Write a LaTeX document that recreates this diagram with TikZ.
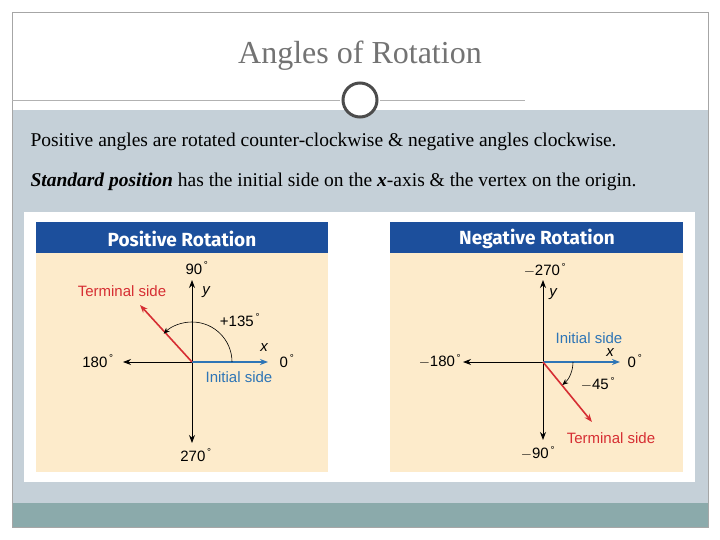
\documentclass[tikz,border=0pt]{standalone}
\usepackage{fontspec}
\setmainfont{Liberation Serif}
\newfontfamily\lab{Liberation Sans}
\newfontfamily\hdr{Fira Sans}
\usetikzlibrary{arrows.meta}
\definecolor{bg}{HTML}{C5D0D8}
\definecolor{bar}{HTML}{8BAAAB}
\definecolor{hblue}{HTML}{1C4F9C}
\definecolor{cream}{HTML}{FDEBCB}
\definecolor{ared}{HTML}{D62E33}
\definecolor{ablue}{HTML}{2E75B6}
\newcommand{\dg}{\textsuperscript{\,\lab\fontsize{10}{10}\selectfont\textdegree}}
\begin{document}
\begin{tikzpicture}[x=1pt,y=-1pt,
  ax/.style={-{Stealth[length=8pt,width=6pt]},line width=0.9pt},
  lb/.style={font=\lab\fontsize{15}{15}\selectfont},
  li/.style={font=\lab\itshape\fontsize{15}{15}\selectfont},
  arcs/.style={-{Stealth[length=6pt,width=5pt]},line width=0.6pt}]
\useasboundingbox (0,0) rectangle (720,540);
\fill[white] (0,0) rectangle (720,540);
\fill[bg] (12,110) rectangle (708,503);
\fill[bar] (12,503) rectangle (708,527);
\draw[gray!70] (12,12) rectangle (708,527);
\draw[gray!60] (12,100) -- (340,100) (380,100) -- (525,100);
\draw[gray!60!black,line width=3pt,fill=white] (360,100) circle (17);
\node[font=\fontsize{32}{32}\selectfont,text=gray!90!black] (title) at (360,56) {Angles of Rotation};
\node[anchor=west,font=\fontsize{19.5}{20}\selectfont] (t1) at (27,142) {Positive angles are rotated counter-clockwise \& negative angles clockwise.};
\node[anchor=west,font=\fontsize{19.5}{20}\selectfont] (t2) at (27,182) {\textbf{\textit{Standard position}} has the initial side on the \textbf{\textit{x}}-axis \& the vertex on the origin.};
\fill[white] (24,212) rectangle (695,482);
% left panel
\fill[cream] (36,222) rectangle (328,472);
\fill[hblue] (36,222) rectangle (328,253);
\node[text=white,font=\hdr\bfseries\fontsize{19}{19}\selectfont] (h1) at (182,239) {Positive Rotation};
\coordinate (o1) at (192,362);
\coordinate (t1e) at (140,305);
\draw[ax] (o1) -- (192,280) coordinate (yt1);
\draw[ax] (o1) -- (192,443) coordinate (yb1);
\draw[ax] (o1) -- (123,362) coordinate (xl1);
\draw[ax,ablue,line width=1.6pt] (o1) -- (268,362) coordinate (xr1);
\draw[ax,ared,line width=1.6pt] (o1) -- (t1e);
\draw[arcs] (232,362) arc[start angle=0,end angle=-135,radius=40];
\node[lb] (n90) at (197,268) {90\dg};
\node[lb] (n270) at (196,455) {270\dg};
\node[lb] (n180) at (98,361) {180\dg};
\node[lb] (n0) at (287,361) {0\dg};
\node[li] (x1) at (264,348) {x};
\node[li] (y1) at (206,292) {y};
\node[lb] (a135) at (240,320) {+135\dg};
\node[lb,text=ared] (ts1) at (122,291) {Terminal side};
\node[lb,text=ablue] (is1) at (239,377) {Initial side};
% right panel
\fill[cream] (390,222) rectangle (683,472);
\fill[hblue] (390,222) rectangle (683,253);
\node[text=white,font=\hdr\bfseries\fontsize{19}{19}\selectfont] (h2) at (537,239) {Negative Rotation};
\coordinate (o2) at (543,362);
\coordinate (t2e) at (592,422);
\draw[ax] (o2) -- (543,280);
\draw[ax] (o2) -- (543,440);
\draw[ax] (o2) -- (463,362);
\draw[ax,ablue,line width=1.6pt] (o2) -- (620,362);
\draw[ax,ared,line width=1.6pt] (o2) -- (t2e);
\draw[arcs] (573,362) arc[start angle=0,end angle=50,radius=30];
\node[lb] (m270) at (545,270) {$-$270\dg};
\node[li] (y2) at (553,294) {y};
\node[lb,text=ablue] (is2) at (589,338) {Initial side};
\node[li] (x2) at (610,353) {x};
\node[lb] (m0) at (635,361) {0\dg};
\node[lb] (m180) at (440,361) {$-$180\dg};
\node[lb] (m45) at (598,384) {$-$45\dg};
\node[lb,text=ared] (ts2) at (611,438) {Terminal side};
\node[lb] (m90) at (538,453) {$-$90\dg};
\end{tikzpicture}
\end{document}
